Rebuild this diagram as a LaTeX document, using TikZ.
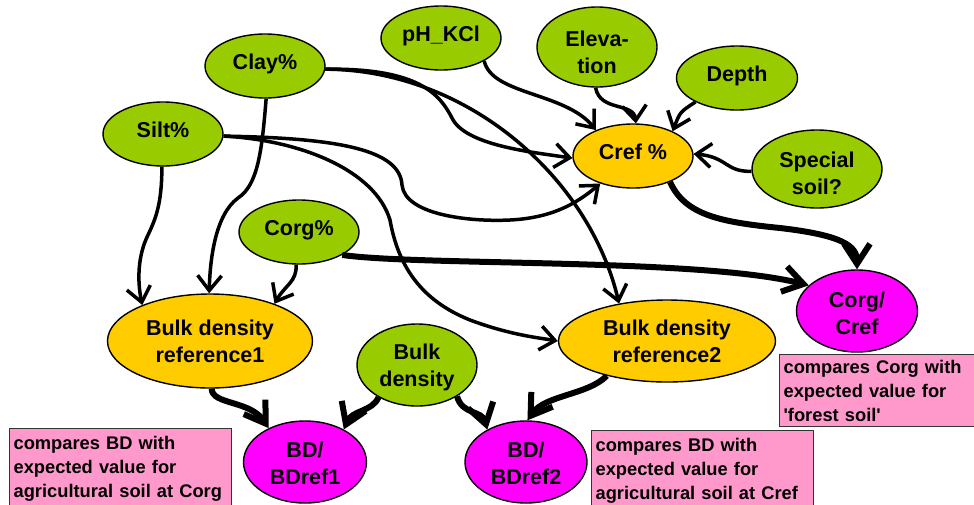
\documentclass[tikz,border=0pt]{standalone}
\usepackage{fontspec}
\setmainfont{Liberation Sans}
\usetikzlibrary{shapes.geometric,arrows.meta}
\definecolor{cgreen}{HTML}{99CC00}
\definecolor{corange}{HTML}{FFCC00}
\definecolor{cmag}{HTML}{FF00FF}
\definecolor{cpink}{HTML}{FF99CC}
\tikzset{
  ell/.style={ellipse, draw=black, line width=1.4pt, inner sep=0pt, align=center,
    font=\bfseries\fontsize{21.5}{27}\selectfont},
  one/.style={text height=16pt, text depth=10pt},
  gnode/.style={ell, fill=cgreen},
  onode/.style={ell, fill=corange},
  mnode/.style={ell, fill=cmag},
  note/.style={rectangle, draw=black!80, line width=1.2pt, fill=cpink, anchor=north west,
    align=left, inner xsep=4pt, inner ysep=3pt,
    font=\bfseries\fontsize{18.3}{24}\selectfont},
  ethin/.style={line width=3.5pt, -{Straight Barb[length=15pt,width=24pt]}},
  ethick/.style={line width=6pt, -{Straight Barb[length=20pt,width=26pt]}},
}
\begin{document}
\begin{tikzpicture}[x=1pt,y=-1pt]
\clip (0,0) rectangle (974,504);
\fill[white] (0,0) rectangle (974,504);

% nodes
\node[gnode, one, minimum width=120pt, minimum height=64pt] (clay) at (265,66) {Clay\%};
\node[gnode, one, minimum width=120pt, minimum height=64pt] (silt) at (163,134) {Silt\%};
\node[gnode, one, minimum width=120pt, minimum height=64pt] (ph) at (441,38) {pH\_KCl};
\node[gnode, minimum width=120pt, minimum height=80pt] (elev) at (597,47) {\rule{0pt}{26pt}Eleva-\\tion};
\node[gnode, one, minimum width=121pt, minimum height=64pt] (depth) at (737,78) {Depth};
\node[onode, one, minimum width=120pt, minimum height=64pt] (cref) at (633,156) {Cref \%};
\node[gnode, minimum width=130pt, minimum height=78pt] (spec) at (817,169) {\rule{0pt}{24pt}Special\\soil?};
\node[gnode, one, minimum width=120pt, minimum height=64pt] (corg) at (299,232) {Corg\%};
\node[onode, minimum width=205pt, minimum height=94pt] (bd1) at (210,341) {Bulk density\\reference1};
\node[gnode, minimum width=120pt, minimum height=82pt] (bulk) at (417,365) {\rule{0pt}{20pt}Bulk\\density};
\node[onode, minimum width=217pt, minimum height=82pt] (bd2) at (667,341) {Bulk density\\reference2};
\node[mnode, minimum width=121pt, minimum height=82pt] (cc) at (857,311) {\rule{0pt}{20pt}Corg/\\Cref};
\node[mnode, minimum width=123pt, minimum height=82pt] (bdr1) at (305,462) {\rule{0pt}{19pt}BD/\\BDref1};
\node[mnode, minimum width=122pt, minimum height=82pt] (bdr2) at (526,462) {\rule{0pt}{19pt}BD/\\BDref2};

% notes
\node[note, text width=190pt, minimum height=72pt] (n1) at (779,354) {compares Corg with\\expected value for\\\textquotesingle forest soil\textquotesingle};
\node[note, text width=214pt, minimum height=80pt] (n2) at (9,428) {compares BD with\\expected value for\\agricultural soil at Corg};
\node[note, text width=214pt, minimum height=80pt] (n3) at (591,430) {compares BD with\\expected value for\\agricultural soil at Cref};

% thin edges
\draw[ethin] (ph.-28) .. controls (492,95) and (565,92) .. (cref.145);
\draw[ethin] (elev.-92) .. controls (600,112) and (634,102) .. (cref.85);
\draw[ethin] (depth.-150) .. controls (680,112) .. (cref.32);
\draw[ethin] (spec.182) .. controls (725,172) and (728,157) .. (cref.2);
\draw[ethin] (clay.-3) .. controls (420,68) and (440,95) .. (452,118) .. controls (465,145) and (530,152) .. (cref.182);
\draw[ethin] (clay.-3) .. controls (470,70) and (590,180) .. (bd2.142);
\draw[ethin] (silt.-2) .. controls (340,138) and (400,150) .. (402,185) .. controls (405,215) and (470,222) .. (510,220) .. controls (550,218) and (575,205) .. (cref.220);
\draw[ethin] (silt.-2) .. controls (300,140) and (375,170) .. (390,220) .. controls (398,265) and (420,300) .. (470,320) .. controls (510,335) and (540,338) .. (bd2.180);
\draw[ethin] (silt.-92) .. controls (162,205) and (155,220) .. (148,235) .. controls (138,255) and (137,280) .. (bd1.152);
\draw[ethin] (clay.-88) .. controls (262,150) and (258,185) .. (238,198) .. controls (215,215) and (210,260) .. (bd1.91);
\draw[ethin] (corg.-95) .. controls (297,282) and (285,285) .. (bd1.30);

% thick edges
\draw[ethick] (corg.-28) .. controls (420,266) and (700,258) .. (cc.152);
\draw[ethick] (cref.-35) .. controls (685,215) and (720,222) .. (780,228) .. controls (840,235) and (857,245) .. (cc.90);
\draw[ethick] (bd1.-88) .. controls (212,405) and (250,400) .. (bdr1.137);
\draw[ethick] (bulk.-140) .. controls (372,412) and (352,410) .. (bdr1.40);
\draw[ethick] (bulk.-38) .. controls (462,415) and (482,410) .. (bdr2.140);
\draw[ethick] (bd2.-150) .. controls (588,395) and (545,395) .. (bdr2.88);
\end{tikzpicture}
\end{document}
